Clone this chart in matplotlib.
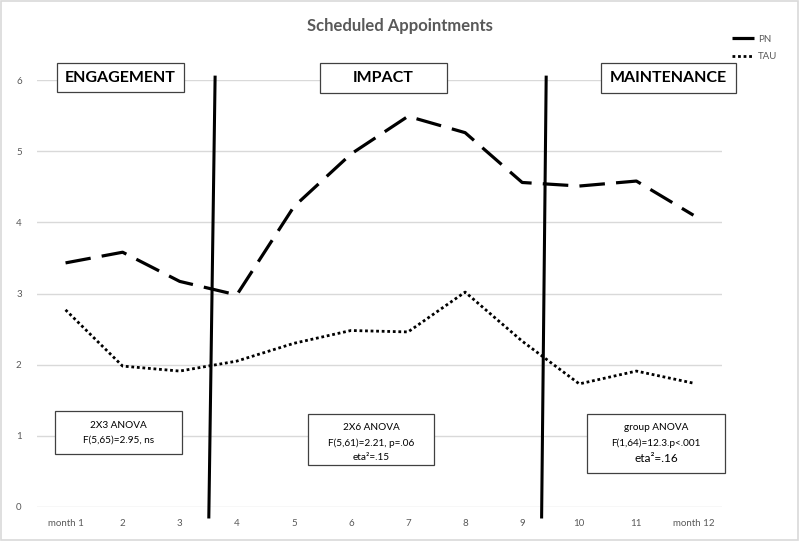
import matplotlib.pyplot as plt
import matplotlib.patches as patches

plt.rcParams['font.family'] = ['Lato', 'DejaVu Sans']

months = ['month 1', '2', '3', '4', '5', '6', '7', '8', '9', '10', '11', 'month 12']
pn = [3.43, 3.58, 3.17, 2.98, 4.22, 4.96, 5.49, 5.26, 4.56, 4.51, 4.58, 4.10]
tau = [2.77, 1.98, 1.91, 2.05, 2.30, 2.48, 2.46, 3.02, 2.33, 1.73, 1.91, 1.74]
# phase dividers (x at top, x at bottom)
dividers = [(3.62, 3.51), (9.42, 9.34)]

W, H = 800, 541
fig = plt.figure(figsize=(8, 5.41), dpi=100)
ax = fig.add_axes([37 / W, 1 - 507 / H, (722 - 37) / W, (507 - 80) / H])

x = list(range(1, len(months) + 1))
ax.plot(x, pn, color='black', lw=2.3, linestyle=(0, (8, 3.5)), solid_capstyle='butt', label='PN')
ax.plot(x, tau, color='black', lw=2.0, linestyle=(0, (1, 1)), label='TAU')

ax.set_xlim(0.5, 12.5)
ax.set_ylim(0, 6)
ax.set_yticks(range(0, 7))
ax.yaxis.grid(True, color='#d9d9d9', lw=1)
ax.set_axisbelow(True)
ax.set_xticks(x)
ax.set_xticklabels(months)
ax.tick_params(length=0, labelsize=7, labelcolor='#595959')
ax.tick_params(axis='y', pad=11)
ax.tick_params(axis='x', pad=9)
for s in ax.spines.values():
    s.set_visible(False)

for xt, xb in dividers:
    ax.plot([xt, xb], [6.04, -0.14], color='black', lw=2.2, clip_on=False)

fig.text(0.5, 1 - 26 / H, 'Scheduled Appointments', ha='center', va='center',
         fontsize=12, color='#595959', fontweight='bold')

leg = ax.legend(loc='upper left', bbox_to_anchor=(723 / W, 1 - 26 / H), bbox_transform=fig.transFigure,
                frameon=False, fontsize=7, handlelength=2.3, labelspacing=0.85, handletextpad=0.4)
for t in leg.get_texts():
    t.set_color('#595959')
leg.get_lines()[0].set_linestyle('-')


def box(x0, y0, x1, y1, lines, bold=False):
    # lines: (text, y in pixels, font size)
    fig.patches.append(patches.Rectangle((x0 / W, 1 - y1 / H), (x1 - x0) / W, (y1 - y0) / H,
                                         transform=fig.transFigure, facecolor='white',
                                         edgecolor='#404040', lw=0.9, zorder=5))
    for txt, ty, size in lines:
        fig.text((x0 + x1) / 2 / W, 1 - ty / H, txt, ha='center', va='center',
                 fontsize=size, fontweight='bold' if bold else 'normal', zorder=6)


box(57, 63, 184, 92, [('ENGAGEMENT', 78, 11.5)], bold=True)
box(320, 63, 447, 93, [('IMPACT', 78, 11.5)], bold=True)
box(601, 63, 736, 93, [('MAINTENANCE', 78, 11.5)], bold=True)
box(55, 411, 182, 454, [('2X3 ANOVA', 425, 7.2), ('F(5,65)=2.95, ns', 440, 7.2)])
box(308, 414, 434, 465, [('2X6 ANOVA', 428, 7.2), ('F(5,61)=2.21, p=.06', 443, 7.2),
                         ('eta²=.15', 458, 7.2)])
box(587, 414, 725, 473, [('group ANOVA', 428, 7.2), ('F(1,64)=12.3.p<.001', 443, 7.2),
                         ('eta²=.16', 459, 8.5)])

fig.patches.append(patches.Rectangle((0.001, 0.001), 0.997, 0.997, transform=fig.transFigure,
                                     fill=False, edgecolor='#d9d9d9', lw=1.2))

fig.savefig('out.png', dpi=100)
